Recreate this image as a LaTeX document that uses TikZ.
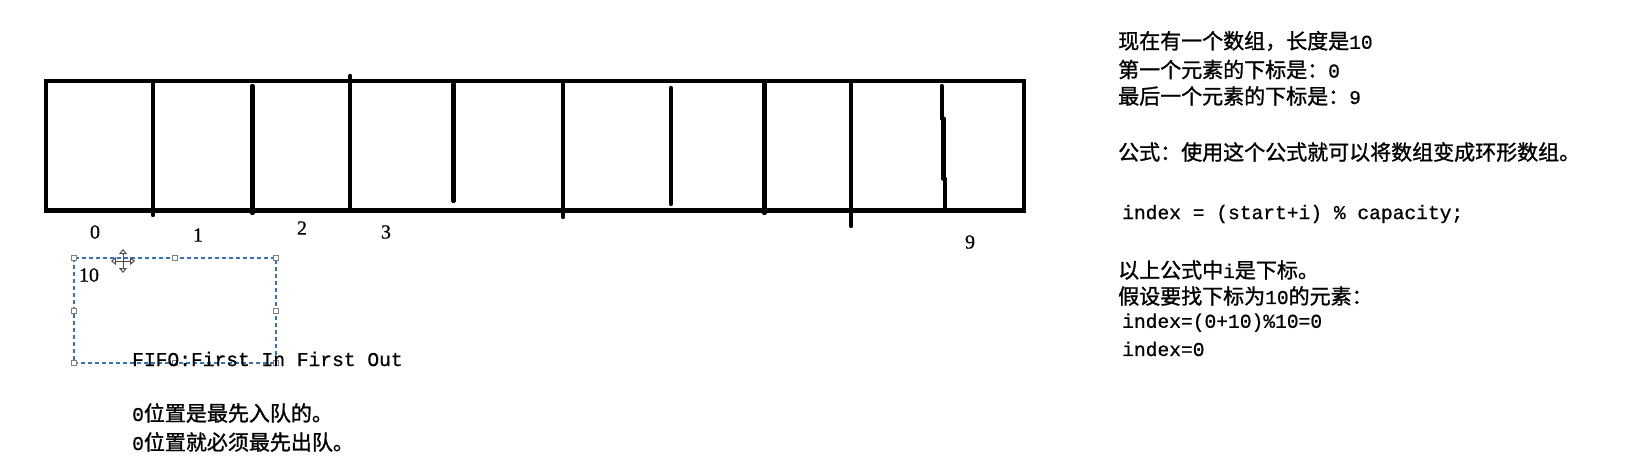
\documentclass[tikz,border=0pt]{standalone}
\usepackage{fontspec}
\setmainfont[RawFeature={embolden=0.8}]{Liberation Serif}
\setmonofont[RawFeature={embolden=0.8}]{Liberation Mono}
\newfontfamily\cjk[RawFeature={embolden=1.2}]{Noto Sans CJK SC}
\newfontfamily\latn[Scale=0.93,RawFeature={embolden=0.8}]{Liberation Mono}
\usetikzlibrary{arrows.meta}
\definecolor{selblue}{RGB}{55,115,180}

\begin{document}
\begin{tikzpicture}[x=1pt,y=-1pt,
    wall/.style={line width=4.4pt,line cap=round},
    handle/.style={draw=gray,fill=white,line width=0.6pt,minimum size=5pt,inner sep=0pt},
    note/.style={anchor=west,inner sep=0pt,font=\fontsize{21}{25}\selectfont\cjk},
    code/.style={anchor=west,inner sep=0pt,font=\ttfamily\fontsize{19.6}{24}\selectfont},
    idx/.style={inner sep=0pt,font=\fontsize{20}{24}\selectfont}]

        % Размеры
        \def\T{81}     % верх массива
        \def\B{210.5}  % низ массива
        \useasboundingbox (0,0) rectangle (1625,467);

        % Массив
        \draw[line width=4.8pt] (46,\T) rectangle (1024,\B);

        % Перегородки ячеек
        \draw[wall] (153,\T) -- (153,215);
        \draw[wall] (252.4,86) -- (252.4,213);
        \draw[wall] (350.2,76) -- (350.2,\B);
        \draw[wall] (453.5,84) -- (453.5,201);
        \draw[wall] (563,\T) -- (563,217);
        \draw[wall] (671,88) -- (671,204);
        \draw[wall] (764.4,\T) -- (764.4,213);
        \draw[wall] (851.2,\T) -- (851.2,226);
        \draw[wall] (941.7,86) -- (941.7,118.5);
        \draw[wall] (943.3,118.5) -- (943.3,178.8);
        \draw[wall] (944.8,178.8) -- (944.8,\B);

        % Индексы
        \node[idx] (i0) at (95,232) {0};
        \node[idx] (i1) at (198,235) {1};
        \node[idx] (i2) at (302,228) {2};
        \node[idx] (i3) at (386,232) {3};
        \node[idx] (i9) at (970,242) {9};

        % Выделенная рамка
        \draw[dash pattern=on 4pt off 3pt,line width=1.4pt,selblue] (74,258) rectangle (276,363);
        \node[handle] (h1) at (74,258) {};
        \node[handle] (h2) at (175,258) {};
        \node[handle] (h3) at (276,258) {};
        \node[handle] (h4) at (74,311) {};
        \node[handle] (h5) at (276,311) {};
        \node[handle] (h6) at (74,363) {};
        \node[handle] (h7) at (175,363) {};
        \node[handle] (h8) at (276,363) {};
        \node[idx] (i10) at (89,275) {10};

        % Курсор
        \coordinate (cur) at (123,261);
        \draw[{Triangle[open,length=5pt,width=8pt]}-{Triangle[open,length=5pt,width=8pt]},line width=1pt,gray!60!black] ([xshift=-12pt]cur) -- ([xshift=12pt]cur);
        \draw[{Triangle[open,length=5pt,width=8pt]}-{Triangle[open,length=5pt,width=8pt]},line width=1pt,gray!60!black] ([yshift=-12pt]cur) -- ([yshift=12pt]cur);

        % Подписи слева
        \node[code] (fifo) at (132,359) {FIFO:First In First Out};
        \node[note] (enq) at (132,413) {{\latn 0}位置是最先入队的。};
        \node[note] (deq) at (132,442) {{\latn 0}位置就必须最先出队。};

        % Пояснения справа
        \node[note] (len) at (1118,41) {现在有一个数组，长度是{\latn 10}};
        \node[note] (first) at (1118,69.5) {第一个元素的下标是：{\latn 0}};
        \node[note] (last) at (1118,96) {最后一个元素的下标是：{\latn 9}};
        \node[note] (ring) at (1118,152) {公式：使用这个公式就可以将数组变成环形数组。};
        \node[code] (formula) at (1122,214) {index = (start+i) \% capacity;};
        \node[note] (idxi) at (1118,270) {以上公式中{\latn i}是下标。};
        \node[note] (find) at (1118,296) {假设要找下标为{\latn 10}的元素：};
        \node[code] (calc) at (1122,322.7) {index=(0+10)\%10=0};
        \node[code] (res) at (1122,349) {index=0};

\end{tikzpicture}
\end{document}
